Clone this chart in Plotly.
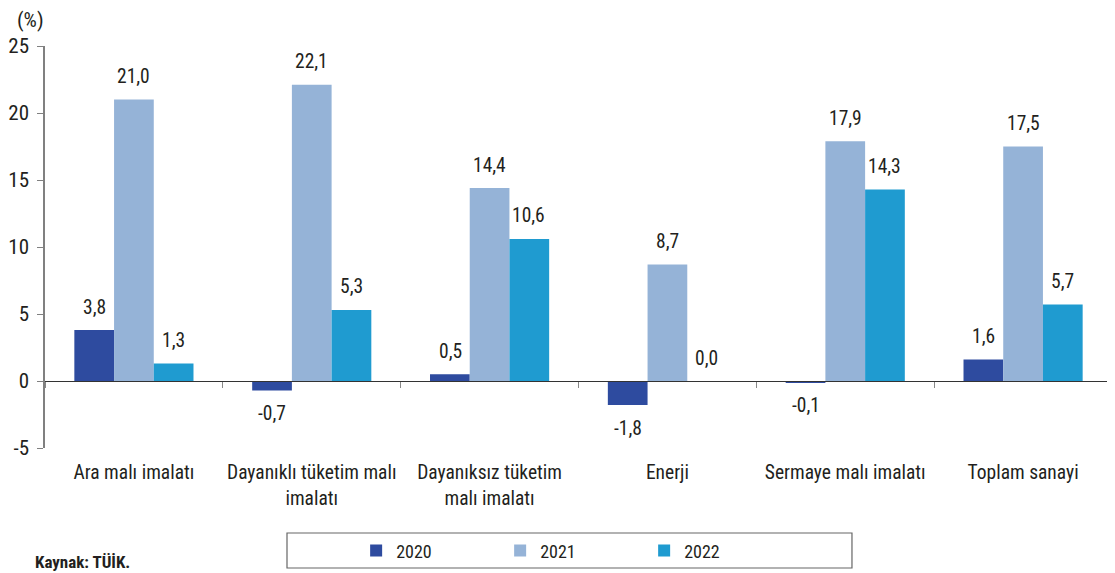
import plotly.graph_objects as go

categories = ["Ara malı imalatı", "Dayanıklı tüketim malı<br>imalatı", "Dayanıksız tüketim<br>malı imalatı",
              "Enerji", "Sermaye malı imalatı", "Toplam sanayi"]
series_names = ["2020", "2021", "2022"]
values_2020 = [3.8, -0.7, 0.5, -1.8, -0.1, 1.6]
values_2021 = [21.0, 22.1, 14.4, 8.7, 17.9, 17.5]
values_2022 = [1.3, 5.3, 10.6, 0.0, 14.3, 5.7]
y_ticks = [-5, 0, 5, 10, 15, 20, 25]

colors = ["#2E4B9F", "#95B3D7", "#1F9BD0"]
FONT = "Liberation Sans Narrow, Roboto Condensed, Arial Narrow, Liberation Sans, sans-serif"
TXT = "#231F20"

all_series = [values_2020, values_2021, values_2022]

fig = go.Figure()
for name, vals, col in zip(series_names, all_series, colors):
    fig.add_trace(go.Bar(x=categories, y=vals, name=name, marker=dict(color=col, line=dict(width=0)),
                         hoverinfo="skip"))

# helper trace for the zero-line axis with category boundary ticks
fig.add_trace(go.Scatter(x=categories, y=[0] * len(categories), mode="none", xaxis="x2",
                         showlegend=False, hoverinfo="skip"))

def fmt(v):
    return f"{v:.1f}".replace(".", ",")

bar_px = 39.3
annotations = []
for i, vals in enumerate(all_series):
    for cat, v in zip(categories, vals):
        annotations.append(dict(x=cat, y=v, xref="x", yref="y", text=fmt(v), showarrow=False,
                                xshift=(i - 1) * bar_px, yshift=23 if v >= 0 else -23,
                                font=dict(family=FONT, size=19.5, color=TXT)))

annotations.append(dict(x=-0.0285, y=1.064, xref="paper", yref="paper", text="(%)", showarrow=False,
                        xanchor="left", yanchor="middle", font=dict(family=FONT, size=21, color=TXT)))
annotations.append(dict(x=-0.011, y=-0.2836, xref="paper", yref="paper", text="<b>Kaynak: TÜİK.</b>",
                        showarrow=False, xanchor="left", yanchor="middle",
                        font=dict(family=FONT, size=17, color=TXT)))

# page body has an 8px default margin; figure size/margins compensate for it
fig.update_layout(
    width=1107, height=565,
    margin=dict(l=37, r=3, t=38, b=125, autoexpand=False),
    paper_bgcolor="white", plot_bgcolor="white",
    barmode="group", bargap=0.33, bargroupgap=0,
    font=dict(family=FONT, size=19.5, color=TXT),
    xaxis=dict(type="category", categoryorder="array", categoryarray=categories,
               range=[-0.5, len(categories) - 0.5],
               showline=False, showgrid=False, zeroline=False,
               ticks="outside", ticklen=7, tickcolor="rgba(0,0,0,0)",
               tickfont=dict(family=FONT, size=19.5, color=TXT)),
    xaxis2=dict(type="category", categoryorder="array", categoryarray=categories,
                overlaying="x", matches="x", anchor="free", position=5 / 30,
                showline=True, linecolor="#333333", linewidth=1,
                ticks="outside", tickson="boundaries", ticklen=6, tickcolor="#888888",
                showticklabels=False, showgrid=False, zeroline=False),
    yaxis=dict(range=[-5, 25], tickvals=y_ticks, ticktext=[str(t) for t in y_ticks],
               showline=True, linecolor="#808080", linewidth=1.5,
               ticks="outside", ticklen=6, tickcolor="#808080",
               showgrid=False, zeroline=False, ticklabelstandoff=4,
               tickfont=dict(family=FONT, size=21, color=TXT)),
    legend=dict(orientation="h", x=0.2916, xanchor="left", y=-0.256, yanchor="middle",
                entrywidth=99, entrywidthmode="pixels", bgcolor="rgba(0,0,0,0)",
                font=dict(family=FONT, size=18, color=TXT), traceorder="normal"),
    shapes=[dict(type="rect", xref="paper", yref="paper", x0=0.2268, x1=0.7563, y0=-0.2985, y1=-0.2114,
                 line=dict(color="#666666", width=1.2), fillcolor="rgba(0,0,0,0)")],
    annotations=annotations,
)

fig.write_html("out.html")
